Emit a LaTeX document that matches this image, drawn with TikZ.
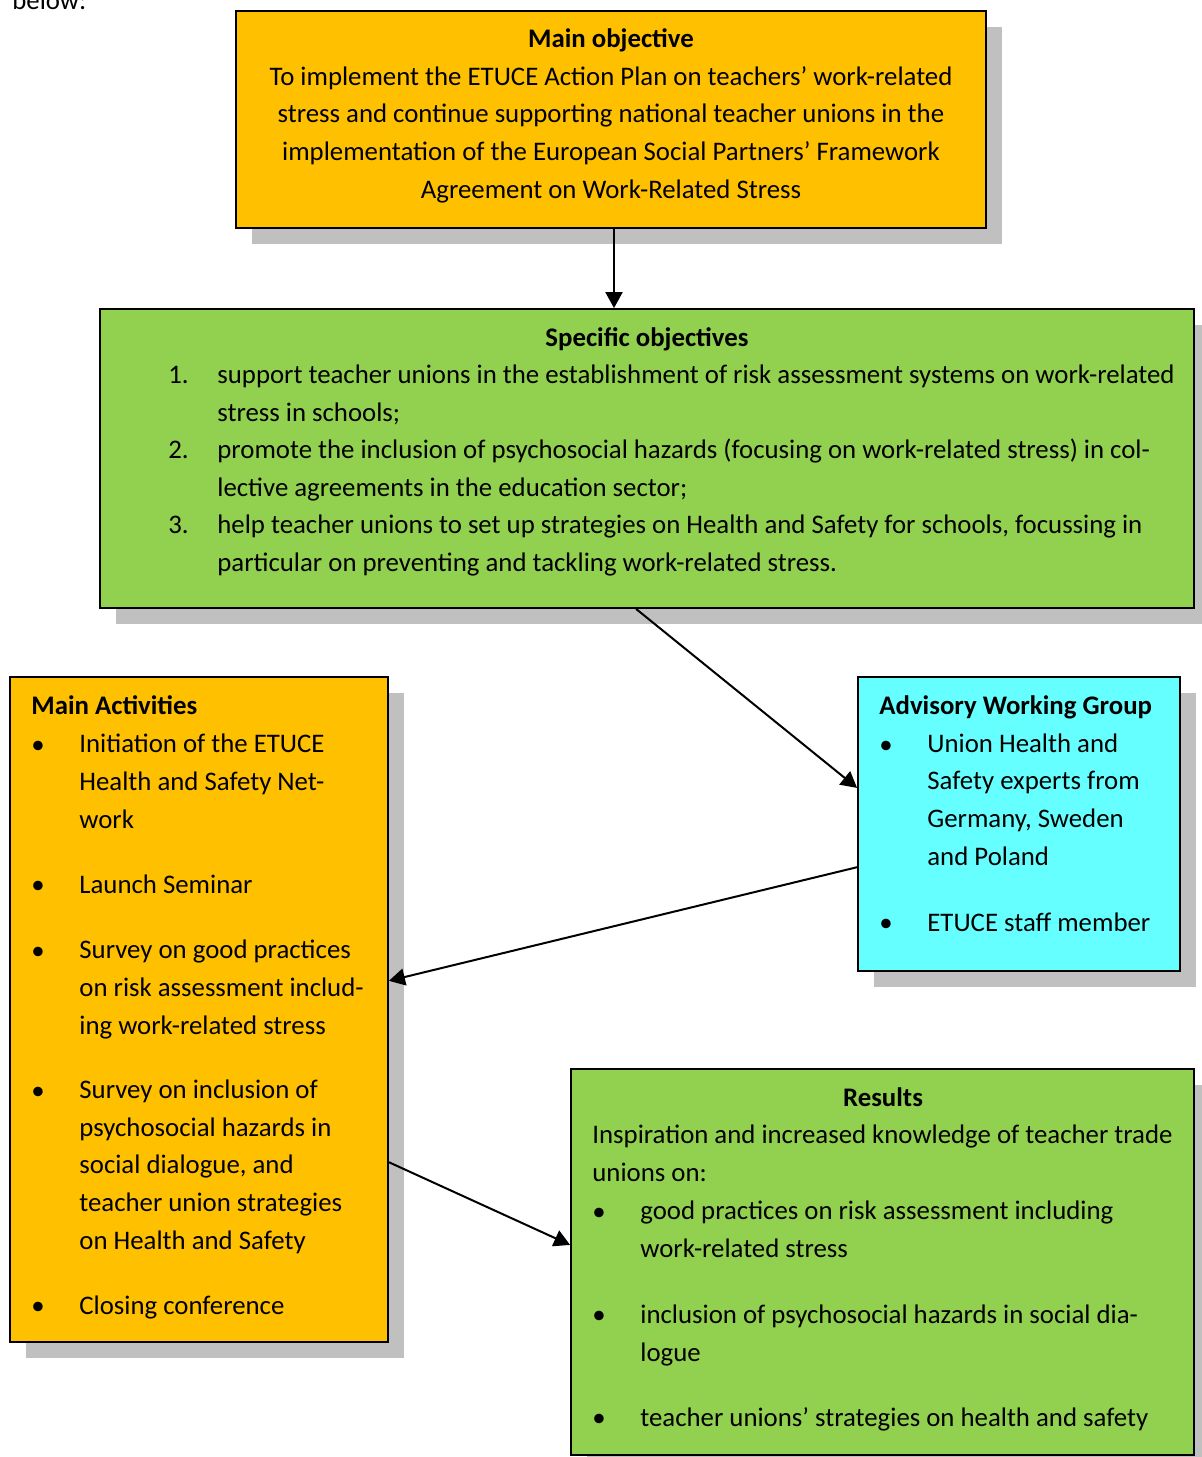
\documentclass[tikz,border=0pt]{standalone}
\usepackage{fontspec}
\setmainfont{Carlito}
\usetikzlibrary{arrows.meta,fit,calc,shadows}
\definecolor{objorange}{HTML}{FFC000}
\definecolor{objgreen}{HTML}{92D050}
\definecolor{objcyan}{HTML}{66FFFF}
\definecolor{shadowgrey}{HTML}{C0C0C0}
\newcommand\bodyfont{\fontsize{13.4pt}{18.8pt}\selectfont}
\begin{document}
\begin{tikzpicture}[x=0.5pt,y=-0.5pt,
  panel/.style={draw=black, line width=0.9pt, inner sep=0pt,
    drop shadow={shadow xshift=8pt, shadow yshift=-8pt, fill=shadowgrey, opacity=1}},
  txt/.style={anchor=base west, inner sep=0pt, align=left, font=\bodyfont},
  ctxt/.style={anchor=base, inner sep=0pt, align=center, font=\bodyfont},
  bul/.style={anchor=base west, inner sep=0pt, font=\bodyfont},
  conn/.style={draw=black, line width=1pt, -{Triangle[length=8pt,width=8.5pt]}}
]
\useasboundingbox (0,0) rectangle (1202,1457);
% (multi-line nodes are placed at the baseline of their last line)
\node[txt] (below) at (12,9) {below:};

% boxes
\node[panel, fill=objorange, fit={(236,11) (986,228)}] (mainobj) {};
\node[panel, fill=objgreen, fit={(100,309) (1194,608)}] (specobj) {};
\node[panel, fill=objorange, fit={(10,677) (388,1342)}] (activ) {};
\node[panel, fill=objcyan, fit={(858,677) (1180,971)}] (awg) {};
\node[panel, fill=objgreen, fit={(571,1069) (1194,1455)}] (results) {};

\begin{scope}[shift={(0,9)}]
% main objective
\node[ctxt] (mainobjtxt) at (611,189) {\textbf{Main objective}\\
To implement the ETUCE Action Plan on teachers’ work-related\\
stress and continue supporting national teacher unions in the\\
implementation of the European Social Partners’ Framework\\
Agreement on Work-Related Stress};

% specific objectives
\node[ctxt] (spectitle) at (647,337) {\textbf{Specific objectives}};
\node[bul] (sn1) at (168,374) {1.};
\node[bul] (sn2) at (168,449) {2.};
\node[bul] (sn3) at (168,524) {3.};
\node[txt] (st1) at (217,412) {support teacher unions in the establishment of risk assessment systems on work-related\\stress in schools;};
\node[txt] (st2) at (217,487) {promote the inclusion of psychosocial hazards (focusing on work-related stress) in col-\\lective agreements in the education sector;};
\node[txt] (st3) at (217,562) {help teacher unions to set up strategies on Health and Safety for schools, focussing in\\particular on preventing and tackling work-related stress.};

% main activities
\node[txt] (actitle) at (31,705) {\textbf{Main Activities}};
\foreach \yy/\nm in {744/b1,884/b2,950/b3,1090/b4,1305/b5}
  \node[bul] (ac\nm) at (31,\yy) {\textbullet};
\node[txt] (ac1) at (79,819) {Initiation of the ETUCE\\Health and Safety Net-\\work};
\node[txt] (ac2) at (79,884) {Launch Seminar};
\node[txt] (ac3) at (79,1025) {Survey on good practices\\on risk assessment includ-\\ing work-related stress};
\node[txt] (ac4) at (79,1240) {Survey on inclusion of\\psychosocial hazards in\\social dialogue, and\\teacher union strategies\\on Health and Safety};
\node[txt] (ac5) at (79,1305) {Closing conference};

% advisory working group
\node[txt] (awgtitle) at (879,705) {\textbf{Advisory Working Group}};
\foreach \yy/\nm in {744/b1,922/b2}
  \node[bul] (awg\nm) at (879,\yy) {\textbullet};
\node[txt] (awg1) at (927,856) {Union Health and\\Safety experts from\\Germany, Sweden\\and Poland};
\node[txt] (awg2) at (927,922) {ETUCE staff member};

% results
\node[ctxt] (restitle) at (883,1097) {\textbf{Results}};
\node[txt] (resintro) at (592,1172) {Inspiration and increased knowledge of teacher trade\\unions on:};
\foreach \yy/\nm in {1211/b1,1314/b2,1417/b3}
  \node[bul] (res\nm) at (592,\yy) {\textbullet};
\node[txt] (res1) at (640,1248) {good practices on risk assessment including\\work-related stress};
\node[txt] (res2) at (640,1352) {inclusion of psychosocial hazards in social dia-\\logue};
\node[txt] (res3) at (640,1417) {teacher unions’ strategies on health and safety};
\end{scope}

% connectors
\draw[conn] ($(mainobj.south west)!0.504!(mainobj.south east)$) coordinate (downstart) -- (specobj.north -| downstart);
\draw[conn] ($(specobj.south west)!0.49!(specobj.south east)$) -- ($(awg.north west)!0.378!(awg.south west)$);
\draw[conn] ($(awg.north west)!0.646!(awg.south west)$) -- ($(activ.north east)!0.457!(activ.south east)$);
\draw[conn] ($(activ.north east)!0.729!(activ.south east)$) -- ($(results.north west)!0.456!(results.south west)$);
\end{tikzpicture}
\end{document}
